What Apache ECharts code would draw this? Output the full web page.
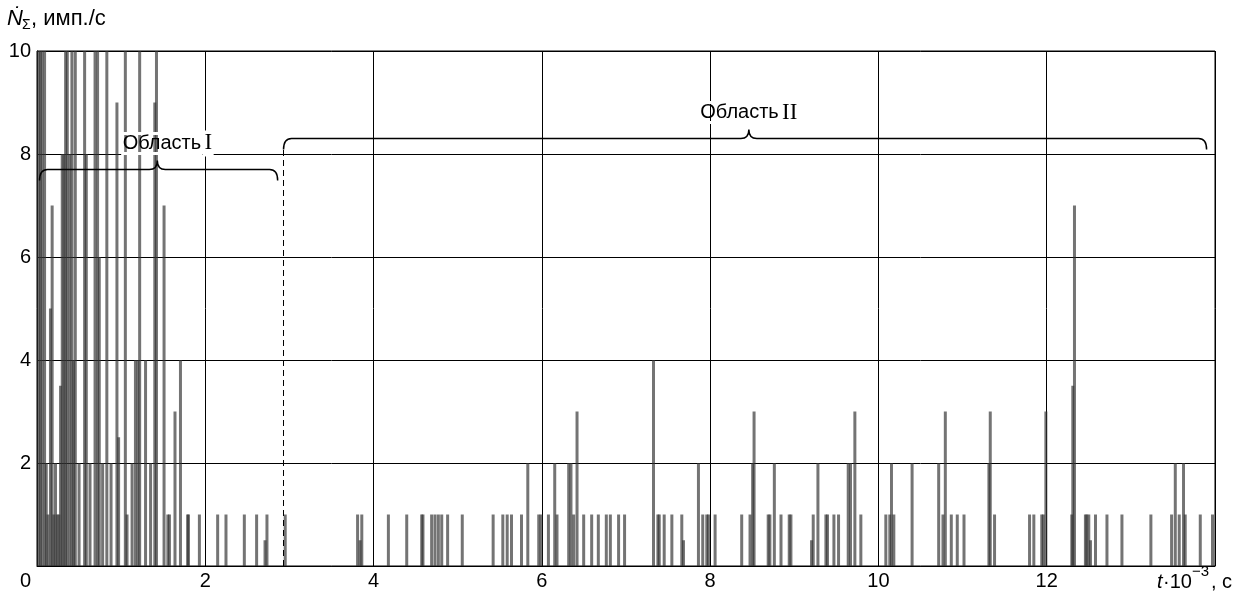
<!DOCTYPE html>
<html><head><meta charset="utf-8">
<script src="https://cdn.jsdelivr.net/npm/echarts@6/dist/echarts.min.js"></script>
<style>html,body{margin:0;padding:0;background:#fff}#c{width:1247px;height:596px}</style>
</head><body><div id="c"></div>
<script>
// time, t·10^-3 s
const times = [
 0.02,0.04,0.06,0.09,0.11,0.13,0.16,0.18,0.20,0.22,0.24,0.26,0.28,0.30,0.32,0.34,0.36,0.39,0.415,0.435,0.455,0.50,0.566,0.586,0.63,0.69,0.72,0.74,0.78,0.83,0.88,0.95,0.97,1.05,1.07,1.13,1.17,1.20,1.22,1.29,1.35,1.40,1.42,1.51,1.555,1.574,1.64,1.705,1.79,1.80,1.93,
 2.147,2.246,2.464,2.61,2.71,2.733,2.95,
 3.81,3.84,3.86,4.176,4.394,4.572,4.587,4.69,4.73,4.77,4.81,4.88,5.054,5.421,5.536,5.588,5.639,5.758,5.833,5.963,5.99,
 6.078,6.153,6.18,6.319,6.346,6.378,6.418,6.497,6.592,6.671,6.766,6.814,6.912,6.983,7.327,7.379,7.395,7.454,7.545,7.663,7.683,7.861,7.912,7.96,7.98,
 8.059,8.375,8.474,8.505,8.522,8.69,8.71,8.763,8.842,8.94,8.96,9.205,9.225,9.281,9.376,9.395,9.471,9.526,9.641,9.668,9.72,9.791,
 10.088,10.135,10.155,10.183,10.40,10.716,10.767,10.795,10.866,10.937,11.017,11.313,11.329,11.38,11.796,11.847,11.941,11.96,11.99,
 12.298,12.31,12.33,12.46,12.476,12.50,12.52,12.58,12.716,12.894,13.238,13.484,13.528,13.575,13.626,13.646,13.825,13.97
];
// count rate, imp./s
const rates = [
 10,10,10,10,2,1,5,7,1,2,1,1,3.5,8,8,10,10,8,10,4,10,2,10,8,2,10,10,6,2,10,2,9,2.5,10,1,2,4,4,10,4,2,9,10,7,1,1,3,4,1,1,1,
 1,1,1,1,0.5,1,1,
 1,0.5,1,1,1,1,1,1,1,1,1,1,1,1,1,1,1,1,2,1,1,
 1,2,1,2,2,1,3,1,1,1,1,1,1,1,4,1,1,1,1,1,0.5,2,1,1,1,
 1,1,1,2,3,1,1,2,1,1,1,0.5,1,2,1,1,1,1,2,2,3,1,
 1,1,2,1,2,2,1,3,1,1,1,2,3,1,1,1,1,1,3,
 1,3.5,7,1,1,1,0.5,1,1,1,1,1,2,1,2,1,1,1
];
const xTicks = [0,2,4,6,8,10,12,14];
const yTicks = [0,2,4,6,8,10];
// regions (braces)
const regionNames = ['Область', 'Область'];
const regionNumerals = ['I', 'II'];
const regionStart = [0.03, 2.93];
const regionEnd = [2.86, 13.9];
const regionTip = [1.43, 8.46];
const regionLevel = [7.7, 8.3];
const regionLabelX = [1.55, 8.46];
const boundaryT = 2.93;
const boundaryTop = 8.1;

const chart = echarts.init(document.getElementById('c'), null, {renderer:'canvas'});
const FONT = 'Liberation Sans';
const FS = 20;
const braceData = regionStart.map((s,i)=>[s, regionEnd[i], regionTip[i], regionLevel[i], regionLabelX[i], i]);
const txt = (text, x, y, extra) => ({type:'text', x:x, y:y, style:Object.assign({text:text, fontFamily:FONT, fontSize:FS, fill:'#000', verticalAlign:'middle'}, extra||{})});

chart.setOption({
  animation:false,
  backgroundColor:'#fff',
  grid:{left:37,right:32,top:51,bottom:30,show:true,borderColor:'#000',borderWidth:1},
  xAxis:{type:'value',min:xTicks[0],max:xTicks[xTicks.length-1],interval:2,
    axisLine:{show:true,lineStyle:{color:'#000',width:1}},axisTick:{show:false},
    splitLine:{show:true,lineStyle:{color:'#000',width:1}},
    axisLabel:{color:'#000',fontSize:FS,fontFamily:FONT,margin:5,
      formatter:v=>(v===xTicks[0]||v===xTicks[xTicks.length-1])?'':String(v)}},
  yAxis:{type:'value',min:yTicks[0],max:yTicks[yTicks.length-1],interval:2,
    axisLine:{show:true,lineStyle:{color:'#000',width:1}},axisTick:{show:false},
    splitLine:{show:true,lineStyle:{color:'#000',width:1}},
    axisLabel:{color:'#000',fontSize:FS,fontFamily:FONT,margin:6,
      formatter:v=>v===0?'':String(v)}},
  series:[
    {type:'bar',barWidth:3,barGap:'-100%',
     data:times.map((t,i)=>[t,rates[i]]),
     itemStyle:{color:'rgba(50,50,50,0.68)'},
     markLine:{symbol:'none',silent:true,label:{show:false},
       lineStyle:{type:[6,4],color:'#000',width:1},
       data:[[{coord:[boundaryT,0]},{coord:[boundaryT,boundaryTop]}]]}
    },
    {type:'custom',data:braceData,clip:false,z:10,
     renderItem:function(params,api){
       const s=api.value(0),e=api.value(1),tp=api.value(2),lv=api.value(3),lx=api.value(4),idx=api.value(5);
       const a=api.coord([s,lv]),b=api.coord([e,lv]),c=api.coord([tp,lv]),l=api.coord([lx,lv]);
       const y=a[1],d=11,h=9,r=8;
       const p=`M${a[0]},${y+d} Q${a[0]},${y} ${a[0]+r},${y} L${c[0]-r},${y} Q${c[0]},${y} ${c[0]},${y-h} Q${c[0]},${y} ${c[0]+r},${y} L${b[0]-r},${y} Q${b[0]},${y} ${b[0]},${y+d}`;
       return {type:'group',children:[
         {type:'path',shape:{pathData:p},style:{fill:'none',stroke:'#000',lineWidth:1.5}},
         {type:'text',x:l[0],y:y-26,style:{
            text:'{a|'+regionNames[idx]+'} {b|'+regionNumerals[idx]+'}',
            align:'center',verticalAlign:'middle',
            rich:{a:{fontFamily:FONT,fontSize:FS,fill:'#000',textBorderColor:'#fff',textBorderWidth:3},
                  b:{fontFamily:'Liberation Serif',fontSize:FS+3,fill:'#000',textBorderColor:'#fff',textBorderWidth:3}}}}
       ]};
     }}
  ],
  graphic:[
    {type:'group',x:7,y:19,children:[
      txt('N\u0307',0,0,{fontStyle:'italic',fontSize:22}),
      txt('Σ',15,6,{fontSize:14}),
      txt(', имп./с',24,0,{fontSize:22})
    ]},
    txt('0',20,581),
    {type:'group',x:1157,y:582,children:[
      txt('t',0,0,{fontStyle:'italic'}),
      txt('·10',6,0),
      txt('−3',35,-10,{fontSize:15}),
      txt(', с',54,0)
    ]}
  ]
});
</script></body></html>
